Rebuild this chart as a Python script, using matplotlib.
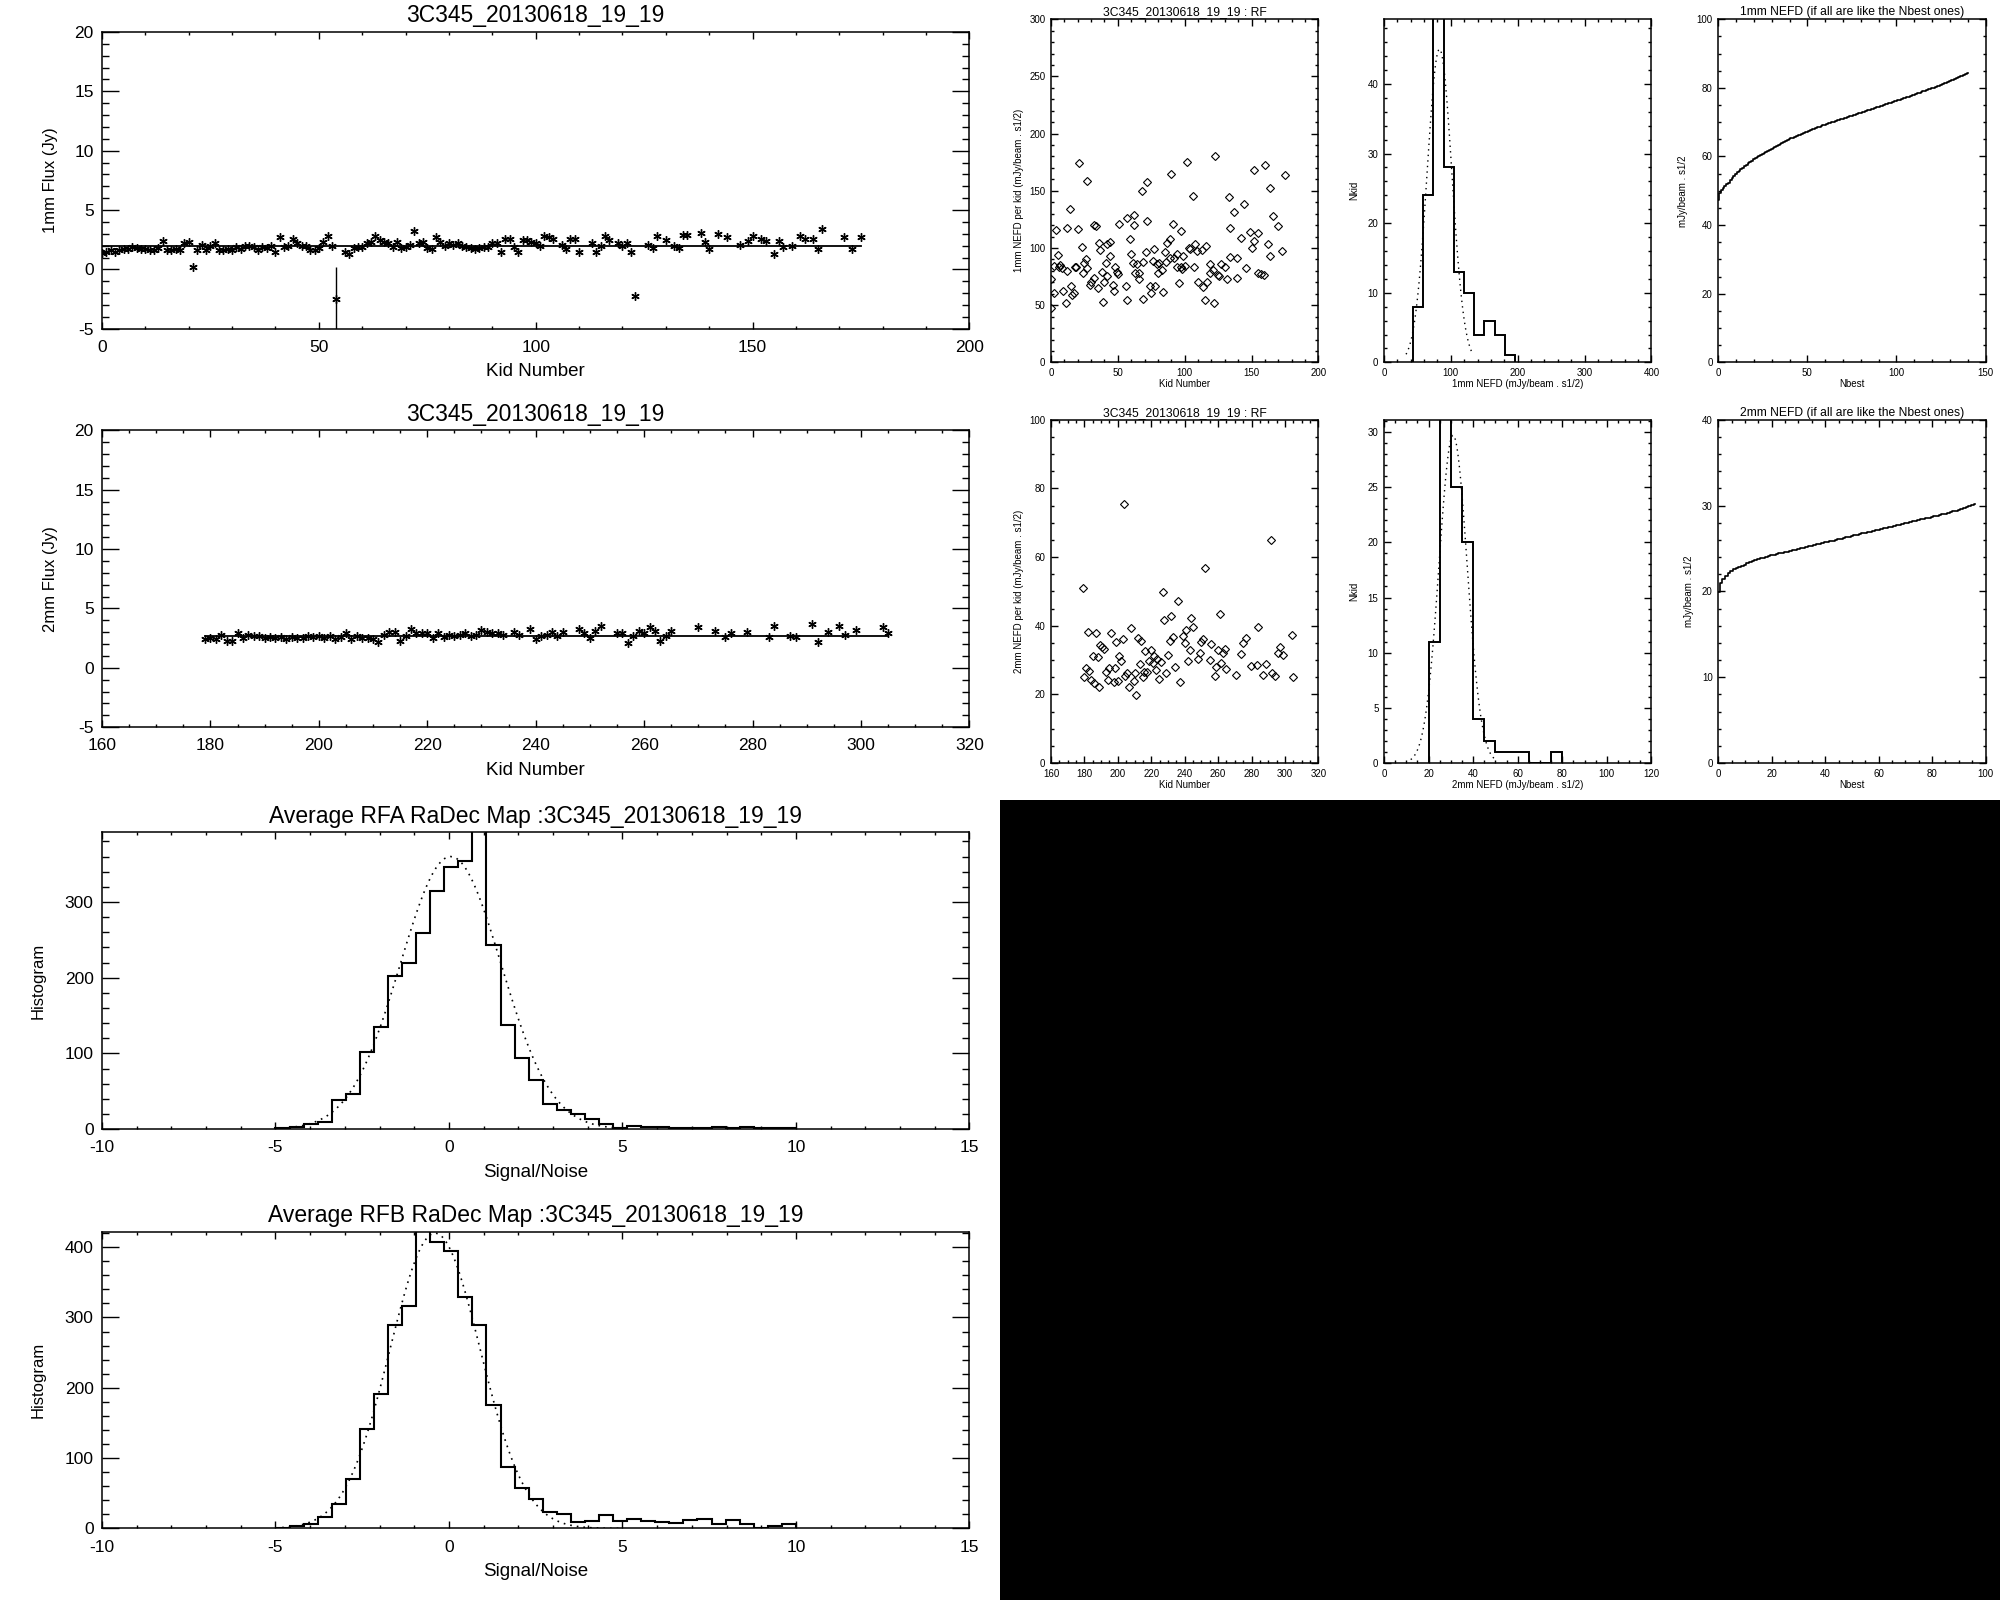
import numpy as np
import matplotlib
matplotlib.use('Agg')
import matplotlib.pyplot as plt
from matplotlib.ticker import MultipleLocator
from matplotlib.patches import Rectangle

plt.rcParams['font.family'] = ['Liberation Sans', 'DejaVu Sans']
plt.rcParams['axes.unicode_minus'] = False

# ---------------- data ----------------
obs_name = "3C345_20130618_19_19"

kid_1mm = [0,1,2,3,4,5,6,7,8,9,10,11,12,13,14,15,16,17,18,19,20,21,22,23,24,25,26,27,28,29,
           30,31,32,33,34,35,36,37,38,39,40,41,42,43,44,45,46,47,48,49,50,51,52,53,54,
           56,57,58,59,60,61,62,63,64,65,66,67,68,69,70,71,72,73,74,75,76,77,78,79,80,
           81,82,83,84,85,86,87,88,89,90,91,92,93,94,95,96,97,98,99,100,101,102,103,104,
           106,107,108,109,110,113,114,115,116,117,119,120,121,122,123,126,127,128,130,132,
           133,134,135,138,139,140,142,144,147,149,150,152,153,155,156,157,159,161,162,164,
           165,166,171,173,175]
flux_1mm = [1.4,1.5,1.6,1.5,1.6,1.7,1.7,1.9,1.8,1.7,1.7,1.6,1.6,1.8,2.4,1.6,1.6,1.7,1.6,2.2,
            2.3,0.2,1.6,2.1,1.6,2.0,2.2,1.6,1.6,1.7,1.6,1.9,1.7,2.0,2.0,1.9,1.6,1.9,1.8,2.0,
            1.5,2.7,1.9,2.0,2.6,2.2,2.0,2.0,1.6,1.6,1.8,2.3,2.8,2.0,-2.5,
            1.5,1.3,1.8,1.9,1.9,2.2,2.3,2.8,2.5,2.3,2.2,1.9,2.3,1.8,1.9,2.1,3.2,2.2,2.3,1.8,
            1.7,2.7,2.3,2.0,2.2,2.1,2.2,2.0,1.9,1.8,1.7,1.8,1.9,1.9,2.2,2.2,1.5,2.6,2.6,1.9,
            1.5,2.5,2.5,2.3,2.2,2.0,2.8,2.7,2.6,
            2.1,1.7,2.6,2.6,1.5,2.2,1.5,2.0,2.8,2.5,2.2,2.0,2.2,1.5,-2.2,2.1,1.8,2.8,2.5,2.0,
            1.8,2.9,2.9,3.1,2.3,1.7,3.0,2.7,2.1,2.4,2.8,2.6,2.4,1.3,2.4,1.9,2.0,2.8,2.6,2.6,
            1.7,3.4,2.7,1.7,2.7]
mean_flux_1mm = 1.95
err_kid_1mm = [54]
err_flux_1mm = [-2.5]
err_size_1mm = [2.7]

kid_2mm = [179,180,181,182,183,184,185,186,187,188,189,190,191,192,193,194,195,196,197,198,
           199,200,201,202,203,204,205,206,207,208,209,210,211,212,213,214,215,216,217,218,
           219,220,221,222,223,224,225,226,227,228,229,230,231,232,233,234,236,237,239,240,
           241,242,243,244,245,248,249,250,251,252,255,256,257,258,259,260,261,262,263,264,
           265,270,273,275,276,279,283,284,287,288,291,292,294,296,297,299,304,305]
flux_2mm = [2.4,2.5,2.4,2.8,2.3,2.3,2.9,2.5,2.8,2.7,2.7,2.5,2.6,2.5,2.6,2.4,2.6,2.5,2.5,2.7,
            2.6,2.7,2.5,2.7,2.4,2.6,2.9,2.4,2.7,2.5,2.5,2.4,2.2,2.8,3.0,3.0,2.3,2.7,3.3,2.9,
            2.9,2.9,2.5,2.9,2.6,2.8,2.7,2.8,2.9,2.7,2.8,3.2,3.0,2.9,2.9,2.8,3.0,2.8,3.3,2.4,
            2.7,2.8,3.0,2.7,3.0,3.3,2.9,2.5,3.1,3.5,2.9,2.9,2.1,2.7,3.1,2.9,3.4,3.1,2.3,2.7,
            3.1,3.4,3.1,2.6,2.9,3.0,2.6,3.5,2.7,2.6,3.7,2.2,3.0,3.5,2.8,3.2,3.4,2.9]
mean_flux_2mm = 2.72

nefd_kid_1mm = [0,0,2,2,4,5,6,7,8,9,11,12,12,14,15,16,17,18,19,20,21,23,24,25,26,27,27,29,30,32,
                32,34,35,36,37,38,39,40,41,42,42,44,44,46,47,48,49,50,51,56,57,57,59,60,61,62,62,
                63,64,66,66,68,69,69,71,72,72,74,75,76,77,78,79,80,81,83,84,85,86,87,89,89,90,91,
                92,94,94,96,97,97,98,99,100,102,103,104,106,107,108,109,110,113,114,115,116,117,
                119,119,121,122,123,125,126,127,130,132,133,134,134,137,139,139,142,144,146,149,
                150,152,152,155,155,157,159,160,162,164,164,166,170,173,175]
nefd_1mm = [72.6,47.3,61.0,84.5,115.6,93.5,83.6,85.1,82.2,62.4,51.7,117.6,79.9,134.5,66.8,59.0,
            60.4,83.1,83.6,116.2,174.6,100.5,77.8,86.6,90.3,158.9,82.8,67.7,70.6,74.1,120.0,119.4,
            65.3,104.0,98.2,78.7,52.9,70.0,86.8,75.8,103.1,104.9,92.9,67.7,62.4,83.6,78.7,77.0,
            121.4,66.8,54.6,125.8,107.5,94.7,86.6,120.0,129.2,78.4,86.0,77.8,72.9,150.2,87.4,55.5,
            96.4,157.7,123.4,67.1,61.0,88.6,98.8,67.1,85.7,77.8,86.6,80.5,61.3,96.4,88.0,104.6,
            107.5,91.5,164.4,121.4,91.5,94.7,83.6,69.1,115.0,83.6,81.3,92.9,84.5,175.1,99.6,98.8,
            145.2,83.1,103.4,97.6,70.6,98.2,66.2,54.6,101.9,70.6,86.0,77.8,80.7,51.7,180.7,76.4,
            75.5,85.7,83.6,72.9,144.9,117.6,92.4,131.6,90.9,73.5,108.9,138.8,82.2,113.6,99.6,168.5,
            106.0,113.3,77.8,77.3,76.4,172.8,103.1,92.9,152.5,127.8,119.4,97.6,163.5]

nefd_kid_2mm = [179,179.6,181,182,182.6,184,185,186,186.8,188,188.6,189.6,190.6,191.6,193,194,
                194.6,196,197.4,198,199,200,200.6,201.6,203,203.6,204.4,205.6,206.6,208,209.4,210,
                210.6,212,213,214,215,215.4,216.4,217.6,218.6,220,221,221.6,223,223.6,224.6,226,
                227,227.6,229,230,231,232,233,234.4,236,237.4,239,240,240.6,242,243,243.6,245,248,
                249,250,251,252.4,255,255.6,258.4,259,260,261,262,263,264.4,265,270.4,273.4,275,
                276.4,279.4,283,284,287,288.4,291.4,292,294,296,297,299,304,305]
nefd_2mm = [50.9,25.1,27.7,38.2,26.9,24.2,31.3,23.2,37.9,31.0,22.3,34.4,33.7,33.2,26.4,24.2,
            27.6,37.8,23.7,27.7,35.4,24.0,31.3,29.8,36.2,75.6,25.5,26.1,22.3,39.3,23.8,26.1,
            19.9,36.4,29.0,35.6,25.2,26.4,32.7,26.4,29.6,32.9,29.1,31.3,27.1,30.3,24.5,29.5,
            49.8,41.6,26.1,31.6,35.6,42.9,36.6,27.9,47.2,23.7,36.9,34.9,38.7,29.8,32.9,42.2,39.7,
            30.3,32.2,35.4,36.1,56.7,30.0,34.7,25.5,27.9,32.9,43.4,29.1,32.2,33.2,27.4,25.7,31.8,
            35.1,36.4,28.2,28.6,39.5,25.7,28.8,64.9,26.1,25.5,32.2,33.9,31.5,37.3,25.2]

hist_edges_1mm = [43.5, 58.75, 74.0, 89.25, 104.5, 119.75, 135.0, 150.25, 165.5, 180.75, 196.0]
hist_counts_1mm = [8, 24, 55, 28, 13, 10, 4, 6, 4, 1]
gauss_1mm = (45.0, 83.0, 18.5)          # amplitude, centre, sigma of dotted fit
gauss_range_1mm = (33.0, 133.0)

hist_edges_2mm = [20, 25, 30, 35, 40, 45, 50, 55, 60, 65, 70, 75, 80]
hist_counts_2mm = [11, 34, 25, 20, 4, 2, 1, 1, 1, 0, 0, 1]
gauss_2mm = (29.7, 31.0, 6.3)
gauss_range_2mm = (12.0, 50.0)

sn_lo, sn_hi, sn_nbins = -5.0, 10.0, 37
sn_counts_A = [1,3,7,10,39,47,102,135,202,219,259,314,346,354,600,243,137,94,65,33,
               25,20,14,7,2,4,3,3,2,1,1,3,2,3,1,2,2]
sn_counts_B = [1,3,7,17,35,71,142,191,289,317,470,407,395,329,290,175,87,58,42,24,
               21,9,11,19,10,13,11,9,8,12,13,6,12,7,1,4,6]
gauss_A = (360.0, 0.05, 1.45)
gauss_B = (420.0, -0.4, 1.3)
gauss_range_sn = (-5.0, 5.0)

# ---------------- helpers ----------------
def style(ax, xmaj, xmin, ymaj, ymin, big):
    ax.xaxis.set_major_locator(MultipleLocator(xmaj))
    ax.xaxis.set_minor_locator(MultipleLocator(xmin))
    ax.yaxis.set_major_locator(MultipleLocator(ymaj))
    ax.yaxis.set_minor_locator(MultipleLocator(ymin))
    ax.tick_params(which='both', direction='in', top=True, right=True, width=1.0, color='black')
    if big:
        ax.tick_params(axis='y', which='major', length=12, pad=6, labelsize=12.5)
        ax.tick_params(axis='y', which='minor', length=5)
        ax.tick_params(axis='x', which='major', length=5, pad=8, labelsize=12.5)
        ax.tick_params(axis='x', which='minor', length=2.5)
    else:
        ax.tick_params(axis='both', which='major', length=4.8, pad=4, labelsize=7)
        ax.tick_params(axis='both', which='minor', length=2.4)
    for s in ax.spines.values():
        s.set_linewidth(1.1)

def gauss_curve(params, rng):
    a, mu, sig = params
    x = np.linspace(rng[0], rng[1], 120)
    return x, a * np.exp(-0.5 * ((x - mu) / sig) ** 2)

def nbest_curve(vals):
    v = np.sort(np.asarray(vals, dtype=float))
    n = np.arange(1, len(v) + 1)
    return np.arange(len(v)), np.sqrt(n / np.cumsum(1.0 / v ** 2))

asterisk = (6, 2, 0)

fig = plt.figure(figsize=(20, 16), dpi=100)
fig.add_artist(Rectangle((0.5, 0.0), 0.5, 0.5, transform=fig.transFigure,
                         facecolor='black', edgecolor='none'))

BIG_L, BIG_W, BIG_H = 0.0510, 0.4337, 0.1855
big_bottoms = [0.7945, 0.5455, 0.2943, 0.0447]

# ---- 1mm flux ----
ax = fig.add_axes([BIG_L, big_bottoms[0], BIG_W, BIG_H])
n = min(len(kid_1mm), len(flux_1mm))
ax.plot(kid_1mm[:n], flux_1mm[:n], linestyle='none', marker=asterisk, ms=6, mew=1.0, color='black')
ax.errorbar(err_kid_1mm, err_flux_1mm, yerr=err_size_1mm, fmt='none', ecolor='black', elinewidth=1.0)
ax.plot([kid_1mm[0], kid_1mm[n - 1]], [mean_flux_1mm, mean_flux_1mm], color='black', lw=1.3)
ax.set_xlim(0, 200)
ax.set_ylim(-5, 20)
style(ax, 50, 10, 5, 1, True)
ax.set_title(obs_name, fontsize=16.5, pad=7)
ax.set_xlabel('Kid Number', fontsize=13.5, labelpad=6)
ax.set_ylabel('1mm Flux (Jy)', fontsize=12, labelpad=12)

# ---- 2mm flux ----
ax = fig.add_axes([BIG_L, big_bottoms[1], BIG_W, BIG_H])
n = min(len(kid_2mm), len(flux_2mm))
ax.plot(kid_2mm[:n], flux_2mm[:n], linestyle='none', marker=asterisk, ms=6, mew=1.0, color='black')
ax.plot([kid_2mm[0], kid_2mm[n - 1]], [mean_flux_2mm, mean_flux_2mm], color='black', lw=1.3)
ax.set_xlim(160, 320)
ax.set_ylim(-5, 20)
style(ax, 20, 5, 5, 1, True)
ax.set_title(obs_name, fontsize=16.5, pad=7)
ax.set_xlabel('Kid Number', fontsize=13.5, labelpad=6)
ax.set_ylabel('2mm Flux (Jy)', fontsize=12, labelpad=12)

# ---- S/N histograms ----
sn_edges = np.linspace(sn_lo, sn_hi, sn_nbins + 1)
for k, (counts, gp, ytop, lab) in enumerate([(sn_counts_A, gauss_A, 392, 'RFA'),
                                            (sn_counts_B, gauss_B, 422, 'RFB')]):
    ax = fig.add_axes([BIG_L, big_bottoms[2 + k], BIG_W, BIG_H])
    ax.stairs(counts, sn_edges, color='black', lw=1.5, baseline=0)
    gx, gy = gauss_curve(gp, gauss_range_sn)
    ax.plot(gx, gy, color='black', lw=1.2, linestyle=(0, (1, 3)))
    ax.set_xlim(-10, 15)
    ax.set_ylim(0, ytop)
    style(ax, 5, 1, 100, 20, True)
    ax.set_title('Average %s RaDec Map :%s' % (lab, obs_name), fontsize=16.5, pad=7)
    ax.set_xlabel('Signal/Noise', fontsize=13.5, labelpad=6)
    ax.set_ylabel('Histogram', fontsize=12, labelpad=14)

# ---- small panels ----
SM_L = [0.5255, 0.6920, 0.8591]
SM_W = 0.1337
SM_H = 0.2145
SM_B = [0.7735, 0.5231]
small_title = 8.7
small_lab = 7

# row 1 : 1mm
ax = fig.add_axes([SM_L[0], SM_B[0], SM_W, SM_H])
n = min(len(nefd_kid_1mm), len(nefd_1mm))
ax.plot(nefd_kid_1mm[:n], nefd_1mm[:n], linestyle='none', marker='D', ms=4.5,
        mfc='none', mec='black', mew=0.8)
ax.set_xlim(0, 200); ax.set_ylim(0, 300)
style(ax, 50, 10, 50, 10, False)
ax.set_title(obs_name + ' : RF', fontsize=small_title, pad=3)
ax.set_xlabel('Kid Number', fontsize=small_lab, labelpad=1)
ax.set_ylabel('1mm NEFD per kid (mJy/beam . s1/2)', fontsize=small_lab, labelpad=4)

ax = fig.add_axes([SM_L[1], SM_B[0], SM_W, SM_H])
ax.stairs(hist_counts_1mm, hist_edges_1mm, color='black', lw=1.4, baseline=0)
gx, gy = gauss_curve(gauss_1mm, gauss_range_1mm)
ax.plot(gx, gy, color='black', lw=1.0, linestyle=(0, (1, 3)))
ax.set_xlim(0, 400); ax.set_ylim(0, 49.3)
style(ax, 100, 20, 10, 2, False)
ax.set_xlabel('1mm NEFD (mJy/beam . s1/2)', fontsize=small_lab, labelpad=1)
ax.set_ylabel('Nkid', fontsize=small_lab, labelpad=6)

ax = fig.add_axes([SM_L[2], SM_B[0], SM_W, SM_H])
cx, cy = nbest_curve(nefd_1mm)
ax.plot(cx, cy, color='black', lw=1.2, drawstyle='steps-mid')
ax.set_xlim(0, 150); ax.set_ylim(0, 100)
style(ax, 50, 10, 20, 5, False)
ax.set_title('1mm NEFD (if all are like the Nbest ones)', fontsize=small_title, pad=3)
ax.set_xlabel('Nbest', fontsize=small_lab, labelpad=1)
ax.set_ylabel('mJy/beam . s1/2', fontsize=small_lab, labelpad=6)

# row 2 : 2mm
ax = fig.add_axes([SM_L[0], SM_B[1], SM_W, SM_H])
n = min(len(nefd_kid_2mm), len(nefd_2mm))
ax.plot(nefd_kid_2mm[:n], nefd_2mm[:n], linestyle='none', marker='D', ms=4.5,
        mfc='none', mec='black', mew=0.8)
ax.set_xlim(160, 320); ax.set_ylim(0, 100)
style(ax, 20, 5, 20, 5, False)
ax.set_title(obs_name + ' : RF', fontsize=small_title, pad=3)
ax.set_xlabel('Kid Number', fontsize=small_lab, labelpad=1)
ax.set_ylabel('2mm NEFD per kid (mJy/beam . s1/2)', fontsize=small_lab, labelpad=4)

ax = fig.add_axes([SM_L[1], SM_B[1], SM_W, SM_H])
ax.stairs(hist_counts_2mm, hist_edges_2mm, color='black', lw=1.4, baseline=0)
gx, gy = gauss_curve(gauss_2mm, gauss_range_2mm)
ax.plot(gx, gy, color='black', lw=1.0, linestyle=(0, (1, 3)))
ax.set_xlim(0, 120); ax.set_ylim(0, 31.1)
style(ax, 20, 5, 5, 1, False)
ax.set_xlabel('2mm NEFD (mJy/beam . s1/2)', fontsize=small_lab, labelpad=1)
ax.set_ylabel('Nkid', fontsize=small_lab, labelpad=6)

ax = fig.add_axes([SM_L[2], SM_B[1], SM_W, SM_H])
cx, cy = nbest_curve(nefd_2mm)
ax.plot(cx, cy, color='black', lw=1.2, drawstyle='steps-mid')
ax.set_xlim(0, 100); ax.set_ylim(0, 40)
style(ax, 20, 5, 10, 2, False)
ax.set_title('2mm NEFD (if all are like the Nbest ones)', fontsize=small_title, pad=3)
ax.set_xlabel('Nbest', fontsize=small_lab, labelpad=1)
ax.set_ylabel('mJy/beam . s1/2', fontsize=small_lab, labelpad=6)

fig.savefig('out.png', dpi=100, facecolor='white')
